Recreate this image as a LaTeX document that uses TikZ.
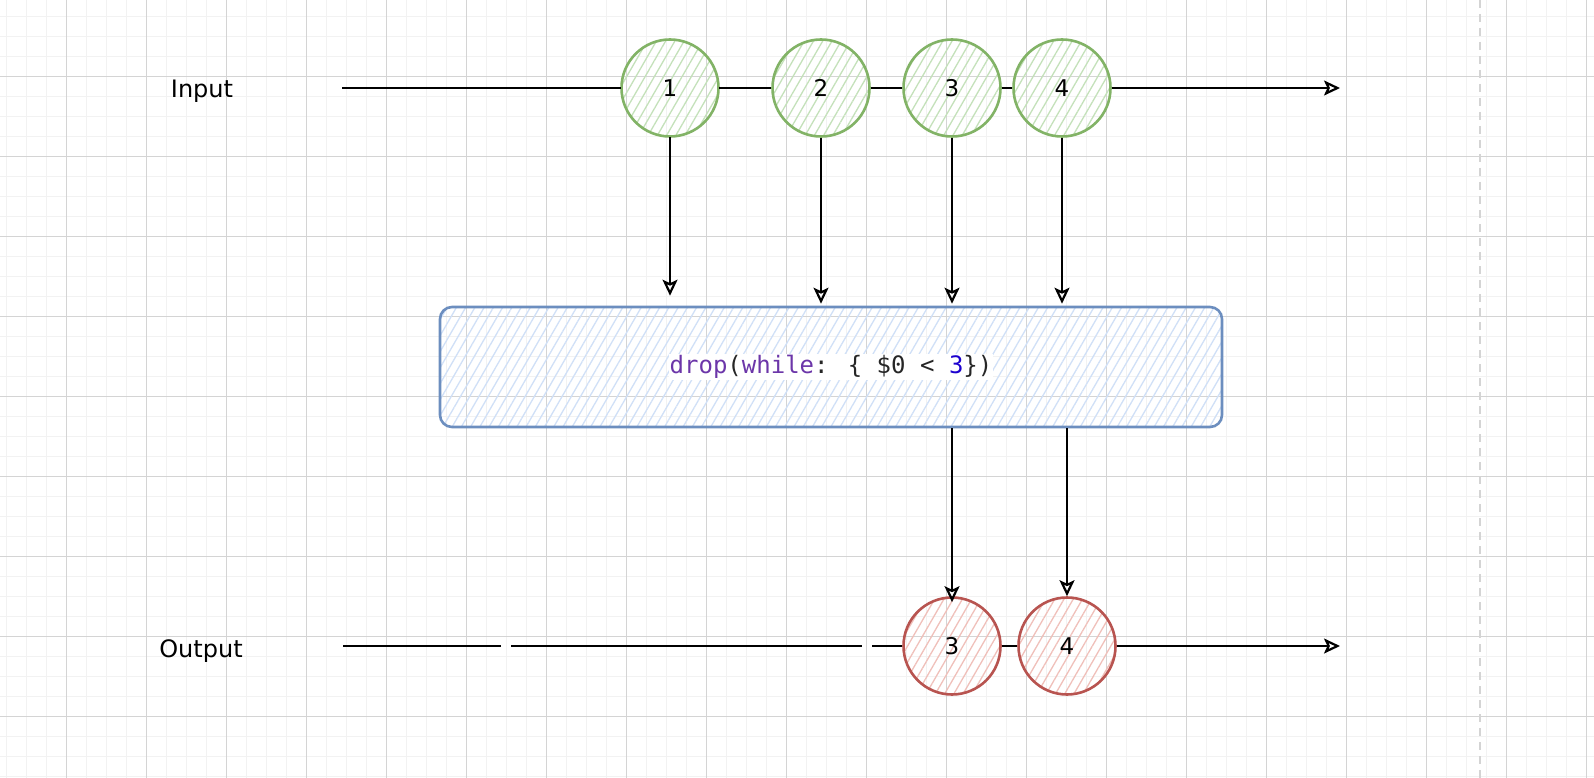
\documentclass[tikz,border=0pt]{standalone}
\usepackage{fontspec}
\setmainfont{DejaVu Sans}
\newfontfamily\codefont{DejaVu Sans Mono}
\usetikzlibrary{positioning}
\usetikzlibrary{arrows.meta}
\usetikzlibrary{patterns.meta}
\definecolor{ballgreen}{HTML}{82B366}
\definecolor{hatchgreen}{HTML}{C4E1BA}
\definecolor{ballred}{HTML}{B85450}
\definecolor{hatchred}{HTML}{F0C0BA}
\definecolor{boxblue}{HTML}{6C8EBF}
\definecolor{hatchblue}{HTML}{D0E0F7}
\definecolor{gridminor}{HTML}{F2F2F2}
\definecolor{gridmajor}{HTML}{D4D4D4}
\definecolor{kwpurple}{HTML}{6C36A9}
\definecolor{numblue}{HTML}{1C00CF}
\definecolor{codeblack}{HTML}{262626}

\begin{document}
\begin{tikzpicture}[x=1pt,y=-1pt,>={Stealth[open,length=16pt,width=15pt,inset=3.5pt]},
		line width=2.2pt,font=\fontsize{24}{28}\selectfont]
		\tikzstyle{inball}=[circle,draw=ballgreen,line width=2.6pt,minimum size=97pt,inner sep=0pt,
			font=\fontsize{23}{26}\selectfont,pattern={Lines[angle=60,distance=8pt,line width=1.3pt]},pattern color=hatchgreen]
		\tikzstyle{outball}=[inball,draw=ballred,pattern color=hatchred]
		\tikzstyle{codebox}=[rectangle,rounded corners=12pt,draw=boxblue,line width=2.6pt,minimum width=782pt,
			minimum height=120pt,pattern={Lines[angle=60,distance=8pt,line width=1.3pt]},pattern color=hatchblue]
		
		% paper grid
		\fill[white] (0,0) rectangle (1594,778);
		\useasboundingbox (0,0) rectangle (1594,778);
		\foreach \gx in {6.7,26.7,...,1594} \draw[gridminor,line width=1.5pt] (\gx,0) -- (\gx,778);
		\foreach \gy in {16.7,36.7,...,778} \draw[gridminor,line width=1.5pt] (0,\gy) -- (1594,\gy);
		\foreach \gx in {66.7,146.7,...,1594} \draw[gridmajor,line width=1pt] (\gx,0) -- (\gx,778);
		\foreach \gy in {76.7,156.7,...,778} \draw[gridmajor,line width=1pt] (0,\gy) -- (1594,\gy);
		\draw[gridmajor,line width=2pt,dash pattern=on 8pt off 6pt] (1480,0) -- (1480,778);
		
		% input stream
		\node                (inlabel) at (202,91)                    {Input};
		\node[inball]        (in1) at (670,88)                        {1};
		\node[inball]        (in2) [right of=in1,node distance=151pt] {2};
		\node[inball]        (in3) [right of=in2,node distance=131pt] {3};
		\node[inball]        (in4) [right of=in3,node distance=110pt] {4};
		\coordinate          (instart) at (342,88);
		\coordinate          (inend) at (1340,88);
		
		% operator
		\node[codebox]       (op) at (831,367) {};
		\node[fill=white,inner sep=1pt,text=codeblack,font=\codefont\fontsize{24}{28}\selectfont] (code) at (op)
		{\textcolor{kwpurple}{drop}(\textcolor{kwpurple}{while}: \{ \$0 < \textcolor{numblue}{3}\})};
		
		% output stream
		\node                (outlabel) at (201,651)                  {Output};
		\node[outball]       (out3) at (952,646)                      {3};
		\node[outball]       (out4) [right of=out3,node distance=115pt] {4};
		\coordinate          (outstart) at (343,646);
		\coordinate          (outend) at (1340,646);
		
		\draw (instart) -- (in1) -- (in2) -- (in3) -- (in4);
		\draw[->] (in4) -- (inend);
		\draw[->,shorten >=10pt] (in1) -- (in1 |- op.north);
		\foreach \n in {2,3,4}
		\draw[->,shorten >=2pt] (in\n) -- (in\n |- op.north);
		\draw[->,shorten >=-6pt] (op.south -| out3) -- (out3);
		\draw[->] (op.south -| out4) -- (out4);
		\draw[dash pattern=on 158pt off 10pt on 351pt off 10pt on 200pt] (outstart) -- (out3);
		\draw (out3) -- (out4);
		\draw[->] (out4) -- (outend);
		
\end{tikzpicture}
\end{document}
